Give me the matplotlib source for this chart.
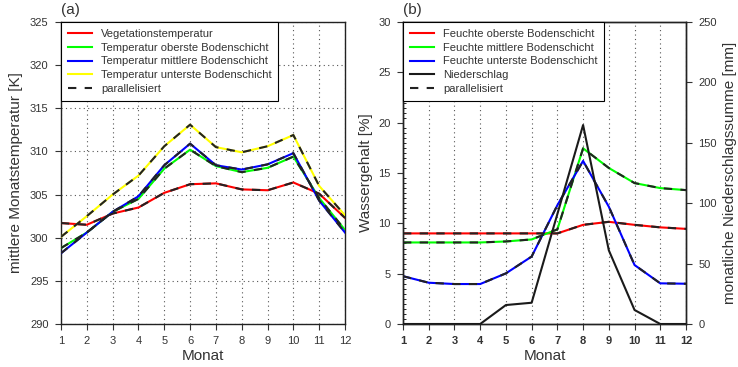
import numpy as np
import matplotlib
matplotlib.use("Agg")
import matplotlib.pyplot as plt
from matplotlib.lines import Line2D
from matplotlib.ticker import MultipleLocator

plt.rcParams['font.family'] = ['Liberation Sans', 'DejaVu Sans']

# Monate
months = np.arange(1, 13)

# (a) mittlere Monatstemperatur [K]
t_veg = [301.7, 301.5, 302.8, 303.5, 305.2, 306.2, 306.3, 305.6, 305.5, 306.4, 305.1, 302.3]
t_oben = [298.8, 300.6, 303.0, 304.5, 308.0, 310.2, 308.3, 307.6, 308.1, 309.4, 304.6, 300.9]
t_mitte = [298.2, 300.6, 303.0, 304.8, 308.4, 310.9, 308.4, 307.9, 308.5, 309.8, 304.3, 300.6]
t_unten = [300.1, 302.5, 305.0, 307.2, 310.6, 313.1, 310.5, 309.9, 310.6, 311.9, 306.0, 302.6]

# (b) Wassergehalt [%] und Niederschlag [mm]
f_oben = [9.0, 9.0, 9.0, 9.0, 9.0, 9.0, 9.0, 9.85, 10.15, 9.85, 9.6, 9.45]
f_mitte = [8.1, 8.1, 8.1, 8.1, 8.2, 8.4, 9.4, 17.45, 15.5, 14.0, 13.5, 13.3]
f_unten = [4.75, 4.1, 3.97, 3.97, 5.03, 6.7, 11.8, 16.2, 11.65, 5.86, 4.04, 4.0]
niederschlag = [0, 0, 0, 0, 15.7, 17.6, 91, 164.7, 61, 11.6, 0, 0]

labels_a = ["Vegetationstemperatur", "Temperatur oberste Bodenschicht",
            "Temperatur mittlere Bodenschicht", "Temperatur unterste Bodenschicht"]
labels_b = ["Feuchte oberste Bodenschicht", "Feuchte mittlere Bodenschicht",
            "Feuchte unterste Bodenschicht"]
colors = ["#ff0000", "#00ff00", "#0000ff", "#ffff00"]

dash_col = "#222222"
dash_style = (0, (4, 4))
txt_col = "#333333"

fig = plt.figure(figsize=(7.38, 3.67), dpi=100)
ax1 = fig.add_axes([61/738, 1-324/367, (345-61)/738, (324-22)/367])
ax2 = fig.add_axes([403/738, 1-324/367, (686-403)/738, (324-22)/367])

# ---- (a)
for y, c in zip([t_veg, t_oben, t_mitte, t_unten], colors):
    ax1.plot(months, y, color=c, lw=1.5, zorder=3)
    ax1.plot(months, y, color=dash_col, lw=1.5, ls=dash_style, zorder=4)

ax1.set_xlim(1, 12)
ax1.set_ylim(290, 325)
ax1.set_xticks(months)
ax1.set_yticks(np.arange(290, 326, 5))
ax1.grid(True, color="#555555", ls=(0, (1, 3)), lw=0.8)
ax1.set_xlabel("Monat", fontsize=11, color=txt_col, labelpad=2)
ax1.set_ylabel("mittlere Monatstemperatur [K]", fontsize=11, color=txt_col, labelpad=5)
ax1.tick_params(direction="out", labelsize=8, colors=txt_col, length=4, pad=5)
ax1.text(0.0, 1.015, "(a)", transform=ax1.transAxes, fontsize=11, color=txt_col, va="bottom")

h_a = [Line2D([], [], color=c, lw=1.5) for c in colors]
h_a.append(Line2D([], [], color=dash_col, lw=1.5, ls=dash_style))
leg = ax1.legend(h_a, labels_a + ["parallelisiert"], loc="upper left", fontsize=8,
                 borderaxespad=0, fancybox=False, edgecolor="black", framealpha=1,
                 handlelength=2.2, labelspacing=0.35, borderpad=0.6)
leg.get_frame().set_linewidth(0.8)
for t in leg.get_texts():
    t.set_color(txt_col)

# ---- (b)
for y, c in zip([f_oben, f_mitte, f_unten], colors[:3]):
    ax2.plot(months, y, color=c, lw=1.5, zorder=3)
    ax2.plot(months, y, color=dash_col, lw=1.5, ls=dash_style, zorder=4)

ax2.set_xlim(1, 12)
ax2.set_ylim(0, 30)
ax2.set_xticks(months)
ax2.set_yticks(np.arange(0, 31, 5))
ax2.yaxis.set_minor_locator(MultipleLocator(0.5))
ax2.xaxis.grid(True, color="#555555", ls=(0, (1, 3)), lw=0.8)
ax2.set_xlabel("Monat", fontsize=11, color=txt_col, labelpad=2)
ax2.set_ylabel("Wassergehalt [%]", fontsize=11, color=txt_col, labelpad=4)
ax2.tick_params(direction="out", labelsize=8, colors=txt_col, length=4, pad=5)
ax2.tick_params(axis="y", which="minor", direction="in", length=2)
for lab in ax2.get_xticklabels():
    lab.set_fontweight("bold")
ax2.text(0.0, 1.015, "(b)", transform=ax2.transAxes, fontsize=11, color=txt_col, va="bottom")

ax2r = ax2.twinx()
ax2r.plot(months, niederschlag, color="#1a1a1a", lw=1.5, zorder=3)
ax2r.set_ylim(0, 250)
ax2r.set_yticks(np.arange(0, 251, 50))
ax2r.set_ylabel("monatliche Niederschlagssumme [mm]", fontsize=11, color=txt_col, labelpad=4)
ax2r.tick_params(direction="out", labelsize=8, colors=txt_col, length=4, pad=5)

h_b = [Line2D([], [], color=c, lw=1.5) for c in colors[:3]]
h_b.append(Line2D([], [], color="#1a1a1a", lw=1.5))
h_b.append(Line2D([], [], color=dash_col, lw=1.5, ls=dash_style))
leg2 = ax2r.legend(h_b, labels_b + ["Niederschlag", "parallelisiert"], loc="upper left", fontsize=8,
                   borderaxespad=0, fancybox=False, edgecolor="black", framealpha=1,
                   handlelength=2.2, labelspacing=0.35, borderpad=0.6)
leg2.get_frame().set_linewidth(0.8)
for t in leg2.get_texts():
    t.set_color(txt_col)

for ax in (ax1, ax2, ax2r):
    for s in ax.spines.values():
        s.set_color("#222222")
        s.set_linewidth(1.0)

fig.savefig("out.png", dpi=100)
